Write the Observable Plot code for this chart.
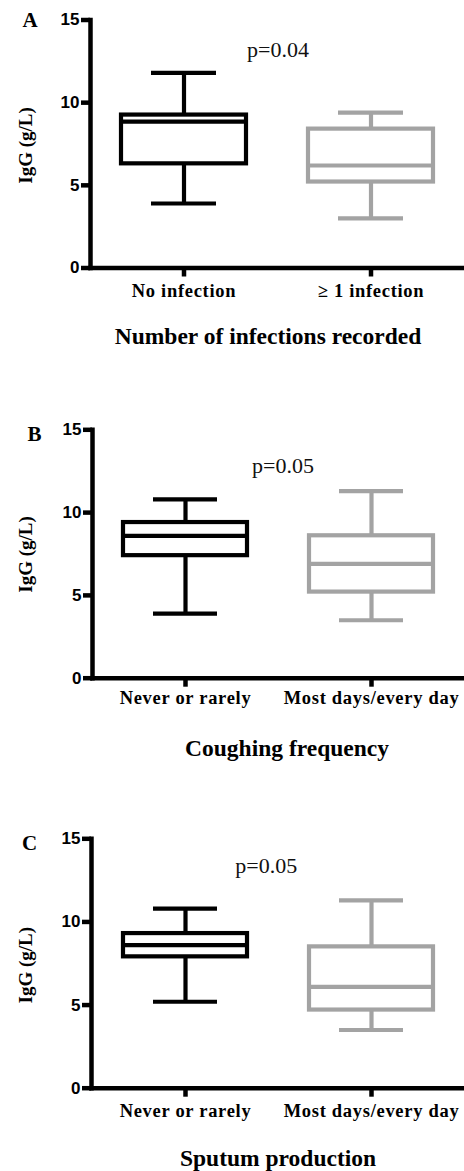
<!DOCTYPE html>
<html><head><meta charset="utf-8">
<script src="https://cdn.jsdelivr.net/npm/d3@7"></script>
<script src="https://cdn.jsdelivr.net/npm/@observablehq/plot@0.6"></script>
<style>
html,body{margin:0;padding:0;background:#fff;}
#chart svg{display:block;}
g[aria-label="x-axis tick label"] text{letter-spacing:0.7px;}
g[aria-label="title"] text{letter-spacing:0.5px;}
</style></head><body><div id="chart"></div>
<script>
// ---- data ----
const panelLetters = ["A", "B", "C"];
const pValues = ["p=0.04", "p=0.05", "p=0.05"];
const xTitles = ["Number of infections recorded", "Coughing frequency", "Sputum production"];
const yLabel = "IgG (g/L)";
const yTicks = [0, 5, 10, 15];

const catsA = ["No infection", "\u2265 1 infection"];
const lowA  = [3.9, 3.0];
const q1A   = [6.3, 5.2];
const medA  = [8.85, 6.2];
const q3A   = [9.25, 8.4];
const highA = [11.8, 9.4];

const catsB = ["Never or rarely", "Most days/every day"];
const lowB  = [3.9, 3.5];
const q1B   = [7.4, 5.2];
const medB  = [8.6, 6.9];
const q3B   = [9.4, 8.6];
const highB = [10.8, 11.3];

const catsC = ["Never or rarely", "Most days/every day"];
const lowC  = [5.2, 3.5];
const q1C   = [7.9, 4.7];
const medC  = [8.6, 6.1];
const q3C   = [9.3, 8.5];
const highC = [10.8, 11.3];

// ---- layout (not data) ----
const layouts = [
  {H: 400, ml: 90, mt: 19.5, mb: 132.5, xPad: 7, let: [-60.5, 7.2], p: [187.5, 36.5], t: [177.5, 75.8], yl: [-59, 1.5]},
  {H: 420, ml: 92, mt: 29.3, mb: 142.3, xPad: 4, let: [-58, 10.7], p: [190.5, 43.4], t: [194.5, 77.3], yl: [-61, 0.5]},
  {H: 351, ml: 91, mt: 18.3, mb: 83.3, xPad: 7, let: [-62, 11], p: [174.8, 34.4], t: [186.5, 77.3], yl: [-60, 1.7]}
];

const panels = [
  [catsA, lowA, q1A, medA, q3A, highA],
  [catsB, lowB, q1B, medB, q3B, highB],
  [catsC, lowC, q1C, medC, q3C, highC]
];

const SW = 4.2;
const AW = 4.5;
const serif = "Liberation Serif, Times New Roman, serif";
const sans = "Liberation Sans, Arial, sans-serif";

panels.forEach(([cats, low, q1, med, q3, high], i) => {
  const L = layouts[i];
  const rows = cats.map((c, j) => ({cat: c, low: low[j], q1: q1[j], med: med[j], q3: q3[j], high: high[j]}));
  const chart = Plot.plot({
    width: 464, height: L.H,
    marginLeft: L.ml, marginRight: 0, marginTop: L.mt, marginBottom: L.mb,
    style: {background: "white", overflow: "visible"},
    x: {domain: cats, padding: 0, axis: null},
    y: {domain: [0, 15], axis: null},
    color: {domain: cats, range: ["#000000", "#a3a3a3"]},
    marks: [
      Plot.ruleX(rows, {x: "cat", y1: "low", y2: "q1", stroke: "cat", strokeWidth: SW}),
      Plot.ruleX(rows, {x: "cat", y1: "q3", y2: "high", stroke: "cat", strokeWidth: SW}),
      Plot.tickY(rows, {x: "cat", y: "low", stroke: "cat", strokeWidth: SW, insetLeft: 61, insetRight: 61}),
      Plot.tickY(rows, {x: "cat", y: "high", stroke: "cat", strokeWidth: SW, insetLeft: 61, insetRight: 61}),
      Plot.barY(rows, {x: "cat", y1: "q1", y2: "q3", fill: "white", stroke: "cat", strokeWidth: SW, insetLeft: 31, insetRight: 31}),
      Plot.tickY(rows, {x: "cat", y: "med", stroke: "cat", strokeWidth: SW, insetLeft: 31, insetRight: 31}),
      Plot.frame({anchor: "left", stroke: "#000", strokeWidth: AW}),
      Plot.frame({anchor: "bottom", stroke: "#000", strokeWidth: AW}),
      Plot.axisY({ticks: yTicks, tickSize: 9, tickPadding: 2, strokeWidth: AW, fontSize: 17, fontWeight: "bold", fontFamily: sans, label: null, color: "#000"}),
      Plot.axisX({tickSize: 9, tickPadding: L.xPad, strokeWidth: AW, fontSize: 18.5, fontWeight: "bold", fontFamily: serif, label: null, color: "#000"}),
      Plot.text([panelLetters[i]], {frameAnchor: "top-left", dx: L.let[0], dy: L.let[1], lineAnchor: "bottom", textAnchor: "middle", fontSize: 21, fontWeight: "bold", fontFamily: serif, fill: "#000"}),
      Plot.text([pValues[i]], {frameAnchor: "top-left", dx: L.p[0], dy: L.p[1], lineAnchor: "bottom", textAnchor: "middle", fontSize: 22, fontFamily: serif, fill: "#111"}),
      Plot.text([yLabel], {frameAnchor: "left", dx: L.yl[0], dy: L.yl[1], rotate: -90, lineAnchor: "bottom", textAnchor: "middle", fontSize: 19, fontWeight: "bold", fontFamily: serif, fill: "#000"}),
      Plot.text([xTitles[i]], {ariaLabel: "title", frameAnchor: "bottom-left", dx: L.t[0], dy: L.t[1], lineAnchor: "bottom", textAnchor: "middle", fontSize: 23.5, fontWeight: "bold", fontFamily: serif, fill: "#000"})
    ]
  });
  document.getElementById("chart").appendChild(chart);
});
</script>
</body></html>
